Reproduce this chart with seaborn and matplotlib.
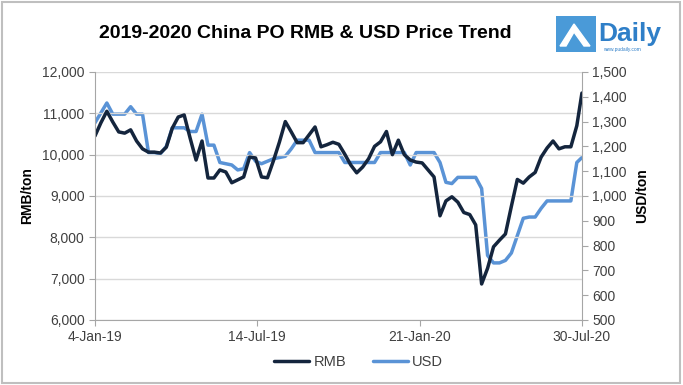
import pandas as pd
import numpy as np
import matplotlib
matplotlib.use("Agg")
import matplotlib.pyplot as plt
from matplotlib.patches import Rectangle, Polygon
import seaborn as sns

# weekly price readings, 4-Jan-19 .. 24-Jul-20, plus 30-Jul-20
rmb = [10450, 10770, 11050, 10790, 10550, 10520, 10600, 10330, 10140, 10060,
       10060, 10040, 10180, 10640, 10910, 10960, 10400, 9870, 10330, 9435,
       9435, 9630, 9580, 9320, 9390, 9460, 9940, 9920, 9460, 9440,
       9850, 10300, 10800, 10550, 10290, 10290, 10480, 10670, 10190, 10240,
       10300, 10250, 10010, 9750, 9560, 9700, 9900, 10200, 10310, 10560,
       10000, 10350, 10000, 9870, 9820, 9800, 9630, 9460, 8520, 8880,
       8980, 8850, 8600, 8550, 8300, 6870, 7250, 7770, 7930, 8080,
       8750, 9400, 9310, 9460, 9570, 9940, 10160, 10330, 10140, 10190,
       10190, 10700, 11490]
usd = [1295, 1335, 1375, 1330, 1330, 1330, 1360, 1330, 1330, 1175,
       1175, 1170, 1200, 1275, 1275, 1275, 1260, 1260, 1330, 1205,
       1205, 1135, 1130, 1125, 1105, 1110, 1175, 1140, 1130, 1140,
       1150, 1155, 1160, 1190, 1225, 1225, 1225, 1175, 1175, 1175,
       1175, 1175, 1135, 1135, 1135, 1135, 1135, 1135, 1175, 1175,
       1175, 1175, 1175, 1125, 1175, 1175, 1175, 1175, 1135, 1055,
       1050, 1075, 1075, 1075, 1075, 1030, 760, 730, 730, 740,
       770, 840, 910, 915, 915, 950, 980, 980, 980, 980,
       980, 1135, 1155]
dates = list(pd.date_range("2019-01-04", periods=82, freq="7D")) + [pd.Timestamp("2020-07-30")]

tick_dates = ["2019-01-04", "2019-07-14", "2020-01-21", "2020-07-30"]
tick_labels = ["4-Jan-19", "14-Jul-19", "21-Jan-20", "30-Jul-20"]

df = pd.DataFrame({"date": dates, "RMB": rmb, "USD": usd})

sns.set_style("white")
plt.rcParams["font.family"] = ["Liberation Sans", "DejaVu Sans"]

rmb_color = "#14253d"
usd_color = "#5a93d6"
grid_color = "#d9d9d9"
axis_color = "#a6a6a6"
text_color = "#404040"

fig = plt.figure(figsize=(6.83, 3.85), dpi=100)
ax = fig.add_axes([0.139, 0.169, 0.713, 0.644])
ax2 = ax.twinx()

sns.lineplot(data=df, x="date", y="RMB", ax=ax, color=rmb_color, linewidth=2.5, legend=False)
sns.lineplot(data=df, x="date", y="USD", ax=ax2, color=usd_color, linewidth=2.5, legend=False)
ax.set_zorder(ax2.get_zorder() + 1)
ax.patch.set_visible(False)

ax.set_xlim(pd.Timestamp("2019-01-04"), pd.Timestamp("2020-07-30"))
ax.set_ylim(6000, 12000)
ax2.set_ylim(500, 1500)
ax.set_yticks(np.arange(6000, 12001, 1000))
ax2.set_yticks(np.arange(500, 1501, 100))
ax.yaxis.set_major_formatter(matplotlib.ticker.FuncFormatter(lambda v, p: f"{int(v):,}"))
ax2.yaxis.set_major_formatter(matplotlib.ticker.FuncFormatter(lambda v, p: f"{int(v):,}"))
ax.set_xticks([pd.Timestamp(d) for d in tick_dates])
ax.set_xticklabels(tick_labels)

ax.grid(axis="y", color=grid_color, linewidth=1.0)
ax.grid(axis="x", visible=False)
ax2.grid(False)

for a in (ax, ax2):
    for s in a.spines.values():
        s.set_visible(False)
ax.spines["left"].set_visible(True)
ax.spines["bottom"].set_visible(True)
ax2.spines["right"].set_visible(True)
ax.spines["left"].set_color(axis_color)
ax.spines["bottom"].set_color(axis_color)
ax2.spines["right"].set_color(axis_color)

ax.tick_params(axis="both", direction="out", length=4, color=axis_color,
               labelsize=10, labelcolor=text_color, left=True, bottom=True)
ax2.tick_params(axis="y", direction="out", length=4, color=axis_color,
                labelsize=10, labelcolor=text_color, right=True)

ax.set_xlabel("")
ax.set_ylabel("RMB/ton", fontsize=10, fontweight="bold", color="#000000", labelpad=6)
ax2.set_ylabel("USD/ton", fontsize=10, fontweight="bold", color="#000000", labelpad=6)

handles = [ax.get_lines()[0], ax2.get_lines()[0]]
fig.legend(handles, ["RMB", "USD"], loc="center", bbox_to_anchor=(0.525, 0.06), ncol=2,
           frameon=False, fontsize=10.5, handlelength=2.4, handletextpad=0.3,
           columnspacing=1.8, labelcolor=text_color)

fig.text(0.447, 0.912, "2019-2020 China PO RMB & USD Price Trend", ha="center", va="center",
         fontsize=14, fontweight="bold", color="#000000")

# logo
fig.patches.append(Rectangle((556 / 683, 1 - 52 / 385), 40 / 683, 36 / 385,
                             transform=fig.transFigure, facecolor="#4a9ad8", edgecolor="none"))
fig.patches.append(Polygon([(560 / 683, 1 - 46 / 385), (574 / 683, 1 - 24 / 385),
                            (590 / 683, 1 - 46 / 385), (584 / 683, 1 - 46 / 385),
                            (574 / 683, 1 - 32 / 385), (566 / 683, 1 - 46 / 385)],
                           closed=True, transform=fig.transFigure, facecolor="white"))
fig.text(598 / 683, 1 - 34 / 385, "Daily", ha="left", va="center", fontsize=19,
         fontweight="bold", color="#2f7fc8")
fig.text(603 / 683, 1 - 50 / 385, "www.pudaily.com", ha="left", va="center", fontsize=3.5,
         color="#2f7fc8")

fig.patches.append(Rectangle((0.003, 0.004), 0.993, 0.99, transform=fig.transFigure,
                             facecolor="none", edgecolor="#bfbfbf", linewidth=1.5))

fig.savefig("out.png", dpi=100)
